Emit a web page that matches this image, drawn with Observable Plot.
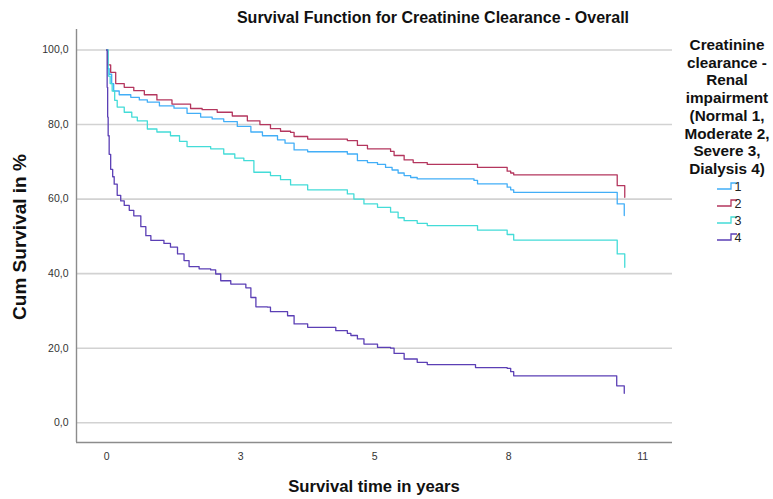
<!DOCTYPE html>
<html>
<head>
<meta charset="utf-8">
<script src="https://cdn.jsdelivr.net/npm/d3@7"></script>
<script src="https://cdn.jsdelivr.net/npm/@observablehq/plot@0.6"></script>
<style>
  html, body { margin: 0; padding: 0; background: #fff; }
  #chart svg { display: block; }
</style>
</head>
<body>
<div id="chart"></div>
<script>
// ---- data ----
const groups = ["1", "2", "3", "4"];
const groupColors = ["#42aef7", "#b4365e", "#43dcd8", "#5b3fb5"];

const t1 = [0,0.02,0.05,0.1,0.14,0.25,0.48,0.65,0.81,1.05,1.34,1.6,1.87,2.1,2.33,2.6,2.87,3.1,3.4,3.55,3.73,4.0,4.79,4.99,5.19,5.39,5.55,5.68,5.8,5.92,6.05,6.18,7.31,7.38,7.97,8.04,8.1,10.16,10.3];
const s1 = [100,95,93.5,91,89,88,87.3,86.6,86,85,84.4,83,82,81.5,80.8,79.5,78,77,75.9,75,73.2,72.7,72.1,70.3,69.8,69.3,68.5,67.8,67,66.3,65.8,65.4,65,64.1,63.2,62.5,61.8,58.7,55.6];

const t2 = [0,0.02,0.08,0.18,0.35,0.54,0.75,1.0,1.3,1.67,1.9,2.2,2.5,2.8,3.05,3.26,3.46,3.66,3.73,4.0,4.79,4.99,5.19,5.65,5.72,5.92,6.1,6.38,7.38,7.97,8.04,8.1,10.16,10.31];
const s2 = [100,96,94,91,90,89.1,88,86.6,85.5,84.3,84,83.3,82.3,81,80,78.9,78.2,77.9,76.8,76.1,75.7,74.4,73.5,72.8,71.7,70.5,69.8,69.3,68.5,67.5,67,66.5,63.6,60.5];

const t3 = [0,0.03,0.07,0.11,0.16,0.21,0.35,0.5,0.61,0.81,1.0,1.27,1.45,1.6,2.07,2.33,2.55,2.73,2.93,3.26,3.46,3.66,4.0,4.79,4.92,5.12,5.39,5.65,5.8,5.92,6.18,6.38,7.38,7.97,8.1,10.16,10.31];
const s3 = [100,93,91,89,86.5,84.7,83.3,82,81,78.8,78,77,75.5,74.1,73.5,72.1,71,70.3,67.2,66.3,65.2,63.8,62.5,61.4,60,58.7,57.8,56.5,55,54.2,53.5,52.9,51.7,50.5,49,45.3,41.7];

const t4 = [0,0.01,0.02,0.03,0.05,0.08,0.12,0.15,0.21,0.28,0.35,0.45,0.54,0.68,0.78,0.88,1.14,1.27,1.41,1.54,1.64,1.84,2.07,2.17,2.27,2.47,2.77,2.87,2.97,3.2,3.26,3.6,3.73,4.0,4.56,4.79,4.86,4.99,5.12,5.39,5.65,5.72,5.92,6.18,6.38,7.34,7.97,8.04,8.1,10.15,10.3];
const s4 = [100,90,82,77,72,68,66,64,61,59.5,58.3,57,55.5,52.6,50.2,48.9,48.1,47.1,45.3,43.5,41.9,41.3,41,39.9,38.1,37.2,36.2,33.6,31.1,31,29.8,28.7,26.5,25.6,24.7,24,23.4,22.5,21.1,20.2,20,18.6,17.1,16.2,15.6,14.8,14.6,13.7,12.6,9.9,7.9];

const xTickValues = [0, 8/3, 16/3, 8, 32/3];
const xTickLabels = ["0", "3", "5", "8", "11"];
const yTickValues = [0, 20, 40, 60, 80, 100];
const xDomain = [-0.6, 11.26];
const yDomain = [-5.3, 105.5];

const titleText = "Survival Function for Creatinine Clearance - Overall";
const xLabel = "Survival time in years";
const yLabel = "Cum Survival in %";
const legendTitle = ["Creatinine", "clearance -", "Renal", "impairment", "(Normal 1,", "Moderate 2,", "Severe 3,", "Dialysis 4)"];

// ---- build table ----
const times = [t1, t2, t3, t4];
const survs = [s1, s2, s3, s4];
const rows = [];
groups.forEach((g, gi) => {
  times[gi].forEach((t, i) => rows.push({ g, t, s: survs[gi][i] }));
});

const W = 773, H = 499;
const font = "'Liberation Sans', Arial, sans-serif";

const chart = Plot.plot({
  width: W,
  height: H,
  marginLeft: 76,
  marginRight: 101,
  marginTop: 29,
  marginBottom: 57,
  style: { fontFamily: font, fontSize: "10.5px", color: "#333", background: "#fff" },
  x: {
    domain: xDomain,
    ticks: xTickValues,
    tickFormat: d => xTickLabels[xTickValues.indexOf(d)],
    tickSize: 0,
    tickPadding: 10,
    label: null
  },
  y: {
    domain: yDomain,
    ticks: yTickValues,
    tickFormat: d => d.toFixed(1).replace(".", ","),
    tickSize: 0,
    tickPadding: 8,
    label: null
  },
  color: { domain: groups, range: groupColors },
  marks: [
    Plot.gridY(yTickValues, { stroke: "#d2d2d2", strokeOpacity: 1, strokeWidth: 1.6 }),
    Plot.ruleX([xDomain[0]], { stroke: "#8c8c8c", strokeWidth: 1.4 }),
    Plot.ruleY([yDomain[0]], { stroke: "#8c8c8c", strokeWidth: 1.4 }),
    Plot.line(rows, { x: "t", y: "s", z: "g", stroke: "g", curve: "step-after", strokeWidth: 1.3 })
  ]
});

const svg = d3.select(chart);

// title
svg.append("text")
  .attr("x", 433).attr("y", 23)
  .attr("text-anchor", "middle")
  .attr("font-family", font).attr("font-size", "16px").attr("font-weight", "bold")
  .attr("fill", "#111")
  .text(titleText);

// x label
svg.append("text")
  .attr("x", 374).attr("y", 492)
  .attr("text-anchor", "middle")
  .attr("font-family", font).attr("font-size", "16.7px").attr("font-weight", "bold")
  .attr("fill", "#111")
  .text(xLabel);

// y label
svg.append("text")
  .attr("transform", "translate(26,237) rotate(-90)")
  .attr("text-anchor", "middle")
  .attr("font-family", font).attr("font-size", "19px").attr("font-weight", "bold")
  .attr("fill", "#111")
  .text(yLabel);

// legend title
const lg = svg.append("g");
legendTitle.forEach((line, i) => {
  lg.append("text")
    .attr("x", 727).attr("y", 50 + i * 17.7)
    .attr("text-anchor", "middle")
    .attr("font-family", font).attr("font-size", "15.3px").attr("font-weight", "bold")
    .attr("fill", "#111")
    .text(line);
});

// legend entries
const legendY = [186, 203, 220, 237];
groups.forEach((g, i) => {
  const cy = legendY[i];
  lg.append("path")
    .attr("d", `M717,${cy + 3}H731V${cy - 3}H737`)
    .attr("fill", "none")
    .attr("stroke", groupColors[i])
    .attr("stroke-width", 1.3);
  lg.append("text")
    .attr("x", 738).attr("y", cy + 4.5)
    .attr("font-family", font).attr("font-size", "12.5px")
    .attr("fill", "#222")
    .text(g);
});

document.getElementById("chart").appendChild(chart);
</script>
</body>
</html>
